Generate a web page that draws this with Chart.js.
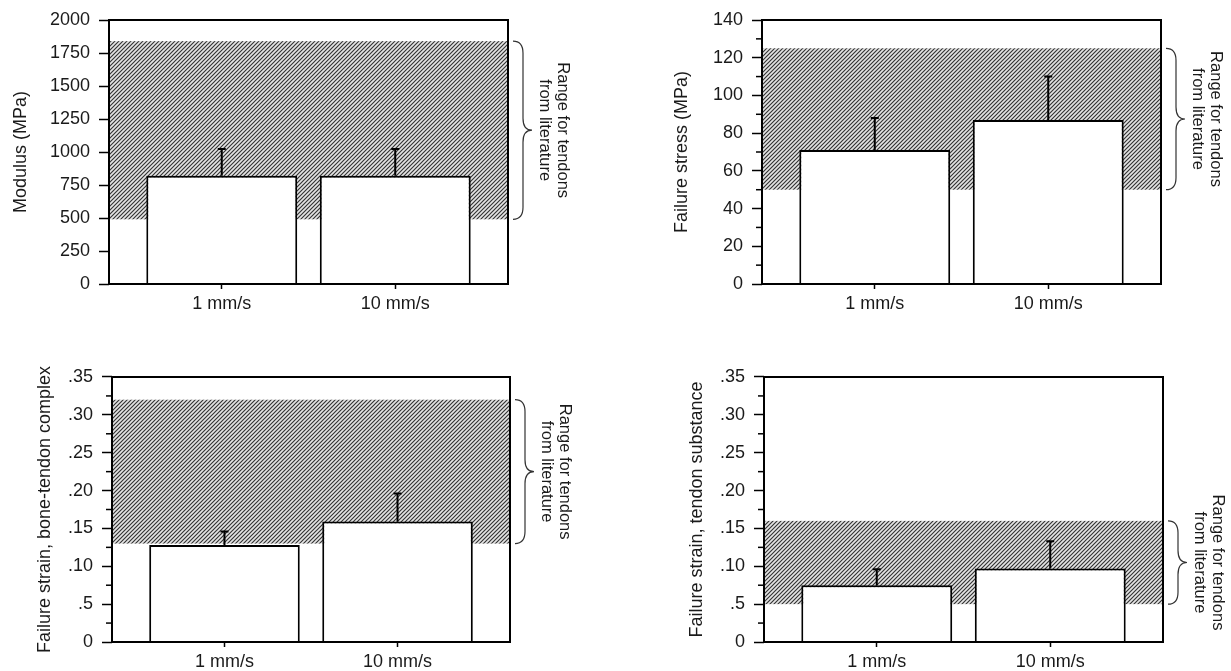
<!DOCTYPE html>
<html>
<head>
<meta charset="utf-8">
<script src="https://cdn.jsdelivr.net/npm/chart.js@4.4.1/dist/chart.umd.min.js"></script>
<style>
    html, body { margin: 0; padding: 0; background: #fff; }
    #wrap { position: relative; width: 1231px; height: 671px; overflow: hidden; }
    canvas { position: absolute; }
</style>
</head>
<body>
<div id="wrap">
    <canvas id="modulusChart" width="615" height="335" style="left:0;top:0"></canvas>
    <canvas id="stressChart" width="616" height="335" style="left:615px;top:0"></canvas>
    <canvas id="strainBtcChart" width="615" height="336" style="left:0;top:335px"></canvas>
    <canvas id="strainTsChart" width="616" height="336" style="left:615px;top:335px"></canvas>
</div>
<script>
const categories = ["1 mm/s", "10 mm/s"];

const modulusMean = [820, 820];
const modulusSD = [203, 203];
const modulusRange = [490, 1840];
const modulusTicks = ["0", "250", "500", "750", "1000", "1250", "1500", "1750", "2000"];

const stressMean = [71, 87];
const stressSD = [17, 23];
const stressRange = [50, 125];
const stressTicks = ["0", "20", "40", "60", "80", "100", "120", "140"];

const strainBtcMean = [0.128, 0.159];
const strainBtcSD = [0.018, 0.037];
const strainBtcRange = [0.13, 0.32];

const strainTsMean = [0.075, 0.097];
const strainTsSD = [0.021, 0.036];
const strainTsRange = [0.05, 0.16];

const strainTicks = ["0", ".5", ".10", ".15", ".20", ".25", ".30", ".35"];

const rangeNote = ["Range for tendons", "from literature"];

const FONT = "'Liberation Sans', Arial, Helvetica, sans-serif";
const INK = "#1a1a1a";

// diagonal hatch used for the literature range
function makeHatch() {
    const s = 4;
    const c = document.createElement("canvas");
    c.width = s; c.height = s;
    const g = c.getContext("2d");
    g.fillStyle = "#e4e4e4";
    g.fillRect(0, 0, s, s);
    g.strokeStyle = "#333";
    g.lineWidth = 1.15;
    g.beginPath();
    g.moveTo(-1, s + 1); g.lineTo(s + 1, -1);
    g.moveTo(-1, 1); g.lineTo(1, -1);
    g.moveTo(s - 1, s + 1); g.lineTo(s + 1, s - 1);
    g.stroke();
    return g.createPattern(c, "repeat");
}
const hatch = makeHatch();

const panelPlugin = {
    id: "panelExtras",
    beforeDatasetsDraw(chart) {
        const o = chart.options.plugins.panelExtras;
        const { ctx, chartArea: a, scales: { y } } = chart;
        const top = y.getPixelForValue(o.range[1]);
        const bot = y.getPixelForValue(o.range[0]);
        ctx.save();
        ctx.fillStyle = hatch;
        ctx.fillRect(a.left, top, a.right - a.left, bot - top);
        ctx.restore();
    },
    afterDatasetsDraw(chart) {
        const o = chart.options.plugins.panelExtras;
        const { ctx, chartArea: a, scales: { y } } = chart;
        const meta = chart.getDatasetMeta(0);
        ctx.save();

        // error bars
        ctx.strokeStyle = "#000";
        ctx.lineWidth = 2;
        meta.data.forEach((bar, i) => {
            const yTop = y.getPixelForValue(o.mean[i] + o.sd[i]);
            ctx.beginPath();
            ctx.moveTo(bar.x, bar.y);
            ctx.lineTo(bar.x, yTop);
            ctx.moveTo(bar.x - 4, yTop);
            ctx.lineTo(bar.x + 4, yTop);
            ctx.stroke();
        });

        // frame
        ctx.lineWidth = 2;
        ctx.strokeRect(a.left, a.top, a.right - a.left, a.bottom - a.top);

        // minor ticks
        if (o.minor) {
            ctx.lineWidth = 1.5;
            const t = y.ticks;
            for (let i = 0; i < t.length - 1; i++) {
                const py = y.getPixelForValue((t[i].value + t[i + 1].value) / 2);
                ctx.beginPath();
                ctx.moveTo(a.left - 6, py);
                ctx.lineTo(a.left, py);
                ctx.stroke();
            }
        }

        // brace and note
        const y1 = y.getPixelForValue(o.range[1]);
        const y2 = y.getPixelForValue(o.range[0]);
        const ym = (y1 + y2) / 2;
        const x0 = a.right + 5, x1 = a.right + 15, x2 = a.right + 24;
        const r = 12;
        ctx.strokeStyle = "#333";
        ctx.lineWidth = 1.2;
        ctx.beginPath();
        ctx.moveTo(x0, y1);
        ctx.quadraticCurveTo(x1, y1, x1, y1 + r);
        ctx.lineTo(x1, ym - r);
        ctx.quadraticCurveTo(x1, ym, x2, ym);
        ctx.quadraticCurveTo(x1, ym, x1, ym + r);
        ctx.lineTo(x1, y2 - r);
        ctx.quadraticCurveTo(x1, y2, x0, y2);
        ctx.stroke();

        ctx.translate(a.right + 46, ym);
        ctx.rotate(Math.PI / 2);
        ctx.fillStyle = INK;
        ctx.font = "16.5px " + FONT;
        ctx.textAlign = "center";
        ctx.textBaseline = "middle";
        ctx.fillText(rangeNote[0], 0, -9);
        ctx.fillText(rangeNote[1], 0, 9);
        ctx.restore();
    }
};

function makePanel(id, p) {
    const el = document.getElementById(id);
    if (!el) return;

    new Chart(el, {
        type: "bar",
        data: {
            datasets: [{
                data: categories.map((c, i) => ({ x: i, y: p.mean[i] })),
                backgroundColor: "#fff",
                borderColor: "#000",
                borderWidth: 2,
                borderSkipped: "start",
                categoryPercentage: 1,
                barPercentage: 0.87
            }]
        },
        options: {
            responsive: false,
            animation: false,
            layout: { padding: { top: p.padTop, right: p.padRight, left: 0, bottom: 0 } },
            plugins: {
                legend: { display: false },
                tooltip: { enabled: false },
                panelExtras: { mean: p.mean, sd: p.sd, range: p.range, minor: p.minor }
            },
            scales: {
                x: {
                    type: "linear",
                    min: -0.65,
                    max: 1.65,
                    offset: false,
                    border: { display: false },
                    grid: { offset: false, drawOnChartArea: false, tickLength: 5, tickColor: "#000", tickWidth: 1.5 },
                    afterBuildTicks: s => { s.ticks = categories.map((c, i) => ({ value: i })); },
                    afterFit: s => { s.height = p.xH; },
                    ticks: {
                        padding: 4,
                        color: INK,
                        font: { family: FONT, size: 18 },
                        maxRotation: 0,
                        callback: (v, i) => categories[i]
                    }
                },
                y: {
                    min: 0,
                    max: p.max,
                    border: { display: false },
                    grid: { drawOnChartArea: false, tickLength: 10, tickColor: "#000", tickWidth: 1.5 },
                    afterBuildTicks: s => { s.ticks = p.labels.map((l, i) => ({ value: i * p.step })); },
                    afterFit: s => { s.width = p.yW; },
                    ticks: {
                        padding: 9,
                        color: INK,
                        font: { family: FONT, size: 18 },
                        callback: (v, i) => p.labels[i]
                    },
                    title: {
                        display: true,
                        text: p.title,
                        color: INK,
                        font: { family: FONT, size: 18 },
                        padding: { top: p.titlePad, bottom: 0 }
                    }
                }
            }
        },
        plugins: [panelPlugin]
    });
}

document.addEventListener("DOMContentLoaded", () => {

    makePanel("modulusChart", {
        mean: modulusMean, sd: modulusSD, range: modulusRange,
        labels: modulusTicks, step: 250, max: 2000, minor: false,
        title: "Modulus (MPa)",
        yW: 109, padTop: 20, padRight: 107, xH: 51, titlePad: 10
    });

    makePanel("stressChart", {
        mean: stressMean, sd: stressSD, range: stressRange,
        labels: stressTicks, step: 20, max: 140, minor: true,
        title: "Failure stress (MPa)",
        yW: 147, padTop: 20, padRight: 70, xH: 51, titlePad: 56
    });

    makePanel("strainBtcChart", {
        mean: strainBtcMean, sd: strainBtcSD, range: strainBtcRange,
        labels: strainTicks, step: 0.05, max: 0.35, minor: true,
        title: "Failure strain, bone-tendon complex",
        yW: 112, padTop: 42, padRight: 105, xH: 29, titlePad: 34
    });

    makePanel("strainTsChart", {
        mean: strainTsMean, sd: strainTsSD, range: strainTsRange,
        labels: strainTicks, step: 0.05, max: 0.35, minor: true,
        title: "Failure strain, tendon substance",
        yW: 149, padTop: 42, padRight: 68, xH: 29, titlePad: 71
    });

});
</script>
</body>
</html>
